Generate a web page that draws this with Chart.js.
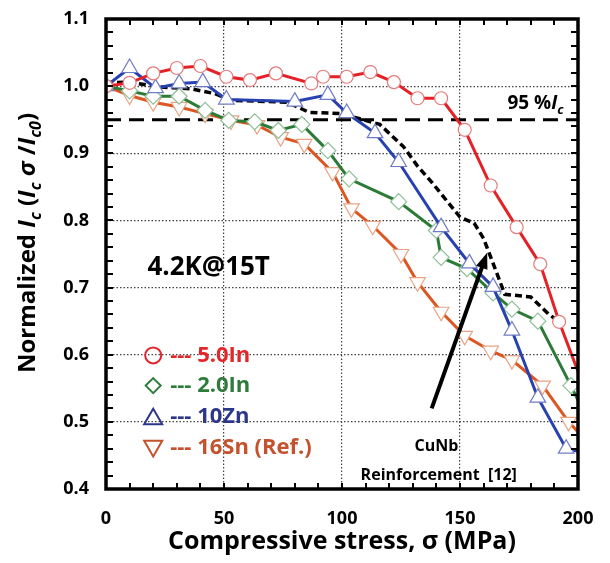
<!DOCTYPE html>
<html>
<head>
<meta charset="utf-8">
<script src="https://cdn.jsdelivr.net/npm/chart.js@4.4.0/dist/chart.umd.min.js"></script>
<style>
    html, body { margin: 0; padding: 0; background: #fff; }
    #wrap { width: 610px; height: 563px; }
</style>
</head>
<body>
<div id="wrap"><canvas id="chart"></canvas></div>
<script>
// compressive stress (MPa) and normalized Ic for each wire
const stress_5In = [0, 10, 20, 30, 40, 51, 61, 72, 87, 92, 102, 112, 122, 132, 142, 152, 163, 174, 184, 192, 200];
const ic_5In = [1.000, 1.005, 1.019, 1.027, 1.030, 1.014, 1.009, 1.019, 1.004, 1.014, 1.014, 1.021, 1.006, 0.982, 0.982, 0.935, 0.852, 0.790, 0.735, 0.649, 0.575];

const stress_2In = [0, 10, 20, 31, 42, 52, 63, 73, 83, 94, 103, 124, 140, 142, 153, 164, 172, 183, 197, 200];
const ic_2In = [1.000, 0.993, 0.985, 0.985, 0.964, 0.949, 0.947, 0.934, 0.943, 0.904, 0.862, 0.828, 0.785, 0.745, 0.728, 0.692, 0.668, 0.650, 0.554, 0.532];

const stress_10Zn = [0, 10, 21, 31, 41, 51, 80, 94, 102, 114, 124, 142, 154, 164, 172, 183, 195, 200];
const ic_10Zn = [1.000, 1.027, 0.997, 1.004, 1.006, 0.980, 0.977, 0.987, 0.960, 0.930, 0.887, 0.790, 0.736, 0.701, 0.636, 0.536, 0.460, 0.456];

const stress_16Sn = [0, 10, 20, 31, 42, 53, 64, 74, 84, 96, 104, 113, 125, 132, 142, 152, 163, 172, 185, 196, 200];
const ic_16Sn = [1.000, 0.986, 0.976, 0.969, 0.959, 0.949, 0.942, 0.924, 0.914, 0.872, 0.818, 0.792, 0.750, 0.708, 0.664, 0.628, 0.606, 0.592, 0.554, 0.500, 0.485];

const stress_CuNb = [0, 10, 22, 36, 46, 53, 77, 86, 100, 109, 116, 126, 132, 138, 150, 156, 160, 169, 180, 188, 191];
const ic_CuNb = [1.005, 1.006, 0.999, 0.996, 0.989, 0.979, 0.976, 0.961, 0.959, 0.950, 0.943, 0.910, 0.881, 0.857, 0.805, 0.796, 0.773, 0.690, 0.686, 0.659, 0.652];

const limit_stress = [0, 200];
const limit_ic = [0.95, 0.95];

const legend_names = ['--- 5.0In', '--- 2.0In', '--- 10Zn', '--- 16Sn (Ref.)'];
const x_ticks = [0, 50, 100, 150, 200];
const y_ticks = [0.4, 0.5, 0.6, 0.7, 0.8, 0.9, 1.0, 1.1];

const FONT = "'Open Sans', 'DejaVu Sans', sans-serif";

function points(xs, ys) {
    return xs.map((v, i) => ({x: v, y: ys[i]}));
}

// no marker on the point that sits on the right axis
const edge_radius = r => (c => (c.raw && c.raw.x >= 200 ? 0 : r));

const series = [
    {label: legend_names[0], data: points(stress_5In, ic_5In), borderColor: '#e32227', pointBorderColor: '#e77a7a',
     pointStyle: 'circle', pointRadius: edge_radius(6.5), order: 0, textColor: '#e3262a'},
    {label: legend_names[1], data: points(stress_2In, ic_2In), borderColor: '#2b7b37', pointBorderColor: '#8fbf98',
     pointStyle: 'rectRot', pointRadius: edge_radius(8), order: 2, textColor: '#2e7b3b'},
    {label: legend_names[2], data: points(stress_10Zn, ic_10Zn), borderColor: '#2741b0', pointBorderColor: '#6f7cc4',
     pointStyle: 'triangle', pointRadius: edge_radius(9), order: 1, textColor: '#2c378a'},
    {label: legend_names[3], data: points(stress_16Sn, ic_16Sn), borderColor: '#dc5622', pointBorderColor: '#e9a485',
     pointStyle: 'triangle', pointRotation: 180, pointRadius: edge_radius(9), order: 3, textColor: '#c4522c'},
];

const datasets = series.map(s => ({
    label: s.label,
    data: s.data,
    borderColor: s.borderColor,
    borderWidth: 3,
    backgroundColor: '#fff',
    pointBackgroundColor: '#fff',
    pointBorderColor: s.pointBorderColor,
    pointBorderWidth: 1.2,
    pointStyle: s.pointStyle,
    pointRotation: s.pointRotation || 0,
    pointRadius: s.pointRadius,
    order: s.order,
}));

datasets.push({
    label: 'CuNb',
    data: points(stress_CuNb, ic_CuNb),
    borderColor: '#000',
    borderWidth: 3.5,
    borderDash: [7, 4],
    pointRadius: 0,
    order: 4,
});

datasets.push({
    label: '95 %Ic',
    data: points(limit_stress, limit_ic),
    borderColor: '#000',
    borderWidth: 3,
    borderDash: [15, 8],
    pointRadius: 0,
    order: 5,
});

// draws a run of text parts, with italic and subscript parts, centred on (cx, cy)
function draw_rich(ctx, parts, cx, cy, size, rotate) {
    const sub_size = Math.round(size * 0.68);
    const font_of = p => `${p.italic ? 'italic ' : ''}bold ${p.sub ? sub_size : size}px ${FONT}`;
    let total = 0;
    for (const p of parts) {
        ctx.font = font_of(p);
        p.w = ctx.measureText(p.t).width;
        total += p.w;
    }
    ctx.save();
    ctx.translate(cx, cy);
    if (rotate) ctx.rotate(-Math.PI / 2);
    ctx.textBaseline = 'alphabetic';
    ctx.textAlign = 'left';
    let px = -total / 2;
    const base = size * 0.36;
    for (const p of parts) {
        ctx.font = font_of(p);
        ctx.fillText(p.t, px, base + (p.sub ? size * 0.25 : 0));
        px += p.w;
    }
    ctx.restore();
}

function marker(ctx, style, x, y, r, rot) {
    ctx.beginPath();
    if (style === 'circle') {
        ctx.arc(x, y, r, 0, Math.PI * 2);
    } else if (style === 'rectRot') {
        ctx.moveTo(x, y - r); ctx.lineTo(x + r, y); ctx.lineTo(x, y + r); ctx.lineTo(x - r, y);
        ctx.closePath();
    } else {
        const d = rot ? -1 : 1;
        ctx.moveTo(x, y - d * r); ctx.lineTo(x + r * 0.95, y + d * r * 0.65); ctx.lineTo(x - r * 0.95, y + d * r * 0.65);
        ctx.closePath();
    }
    ctx.stroke();
}

const overlay = {
    id: 'overlay',
    afterDatasetsDraw(chart) {
        const {ctx, scales: {x, y}} = chart;
        ctx.save();
        ctx.fillStyle = '#000';

        // arrow pointing at the CuNb curve
        const ax0 = x.getPixelForValue(138), ay0 = y.getPixelForValue(0.52);
        const ax1 = x.getPixelForValue(161.5), ay1 = y.getPixelForValue(0.752);
        const ang = Math.atan2(ay1 - ay0, ax1 - ax0);
        const head = 16;
        ctx.strokeStyle = '#000';
        ctx.lineWidth = 4;
        ctx.beginPath();
        ctx.moveTo(ax0, ay0);
        ctx.lineTo(ax1 - Math.cos(ang) * head * 0.8, ay1 - Math.sin(ang) * head * 0.8);
        ctx.stroke();
        ctx.beginPath();
        ctx.moveTo(ax1, ay1);
        ctx.lineTo(ax1 - Math.cos(ang) * head + Math.sin(ang) * 6, ay1 - Math.sin(ang) * head - Math.cos(ang) * 6);
        ctx.lineTo(ax1 - Math.cos(ang) * head - Math.sin(ang) * 6, ay1 - Math.sin(ang) * head + Math.cos(ang) * 6);
        ctx.closePath();
        ctx.fill();

        ctx.textAlign = 'center';
        ctx.textBaseline = 'middle';
        ctx.font = `bold 16px ${FONT}`;
        ctx.fillText('CuNb', x.getPixelForValue(140), y.getPixelForValue(0.463));
        ctx.fillText('Reinforcement  [12]', x.getPixelForValue(141), y.getPixelForValue(0.420));

        ctx.font = `bold 26px ${FONT}`;
        ctx.fillText('4.2K@15T', x.getPixelForValue(43.5), y.getPixelForValue(0.73));

        draw_rich(ctx, [{t: '95 %'}, {t: 'I', italic: true}, {t: 'c', italic: true, sub: true}],
            x.getPixelForValue(182), y.getPixelForValue(0.976), 19, false);

        // legend
        const rows = [0.599, 0.554, 0.507, 0.461];
        const mx = x.getPixelForValue(20);
        series.forEach((s, i) => {
            const py = y.getPixelForValue(rows[i]);
            ctx.strokeStyle = s.textColor;
            ctx.lineWidth = 2;
            const r = s.pointStyle === 'circle' ? 8 : (s.pointStyle === 'rectRot' ? 7.5 : 9.5);
            marker(ctx, s.pointStyle, mx, py + (s.pointStyle === 'triangle' ? (s.pointRotation ? -1 : 1) : 0), r, s.pointRotation);
            ctx.fillStyle = s.textColor;
            ctx.font = `bold 22px ${FONT}`;
            ctx.textAlign = 'left';
            ctx.fillText(s.label, mx + 17, py);
        });
        ctx.restore();
    },
    afterDraw(chart) {
        const {ctx, chartArea: a, scales: {x, y}} = chart;
        ctx.save();
        ctx.strokeStyle = '#000';

        // inward minor ticks on all four sides
        ctx.lineWidth = 2;
        ctx.beginPath();
        for (let v = 10; v < 200; v += 10) {
            const px = Math.round(x.getPixelForValue(v));
            ctx.moveTo(px, a.bottom); ctx.lineTo(px, a.bottom - 6);
            ctx.moveTo(px, a.top); ctx.lineTo(px, a.top + 6);
        }
        for (let k = 1; k < 35; k++) {
            const py = Math.round(y.getPixelForValue(0.4 + k * 0.02));
            ctx.moveTo(a.left, py); ctx.lineTo(a.left + 7, py);
            ctx.moveTo(a.right, py); ctx.lineTo(a.right - 7, py);
        }
        ctx.stroke();

        ctx.lineWidth = 3.5;
        ctx.strokeRect(a.left, a.top, a.right - a.left, a.bottom - a.top);

        // y axis title with italic and subscript parts
        ctx.fillStyle = '#000';
        draw_rich(ctx, [
            {t: 'Normalized '}, {t: 'I', italic: true}, {t: 'c', italic: true, sub: true},
            {t: ' ('}, {t: 'I', italic: true}, {t: 'c', italic: true, sub: true},
            {t: ' \u03c3 ', italic: true}, {t: '/'}, {t: 'I', italic: true}, {t: 'c0', italic: true, sub: true},
            {t: ')'}
        ], 26, 243, 24, true);
        ctx.restore();
    }
};

new Chart(document.getElementById('chart'), {
    type: 'line',
    data: {datasets},
    options: {
        responsive: true,
        maintainAspectRatio: false,
        animation: false,
        layout: {padding: {left: 0, top: 19, right: 32, bottom: 0}},
        plugins: {
            legend: {display: false},
            tooltip: {enabled: false},
        },
        scales: {
            x: {
                type: 'linear',
                min: 0,
                max: 200,
                afterFit: s => { s.height = 74; s.paddingLeft = 0; s.paddingRight = 0; },
                afterBuildTicks: s => { s.ticks = x_ticks.map(v => ({value: v})); },
                ticks: {color: '#000', font: {family: FONT, size: 18, weight: 'bold'}, padding: 19},
                grid: {
                    color: c => (c.tick.value > 0 && c.tick.value < 200 ? '#444' : 'rgba(0,0,0,0)'),
                    lineWidth: 1.2,
                    drawTicks: false,
                },
                border: {display: false, dash: [1.5, 2]},
                title: {
                    display: true,
                    text: 'Compressive stress, \u03c3 (MPa)',
                    color: '#000',
                    font: {family: FONT, size: 25, weight: 'bold'},
                    padding: {top: 0, bottom: 6},
                },
            },
            y: {
                type: 'linear',
                min: 0.4,
                max: 1.1,
                afterFit: s => { s.width = 106; s.paddingTop = 0; s.paddingBottom = 0; },
                afterBuildTicks: s => { s.ticks = y_ticks.map(v => ({value: v})); },
                ticks: {
                    color: '#000',
                    font: {family: FONT, size: 18, weight: 'bold'},
                    padding: 17,
                    callback: v => v.toFixed(1),
                },
                grid: {
                    color: c => (c.tick.value > 0.41 && c.tick.value < 1.09 ? '#444' : 'rgba(0,0,0,0)'),
                    lineWidth: 1.2,
                    drawTicks: false,
                },
                border: {display: false, dash: [1.5, 2]},
            },
        },
    },
    plugins: [overlay],
});
</script>
</body>
</html>
